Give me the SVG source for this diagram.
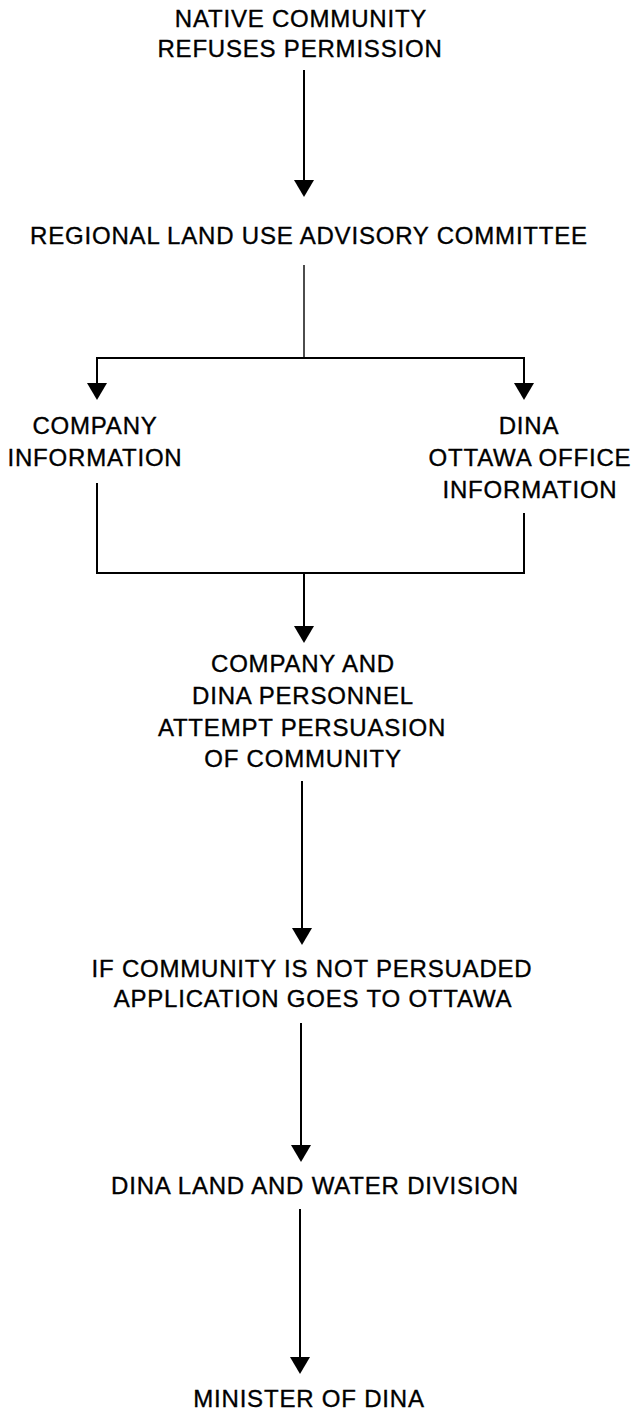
<svg xmlns="http://www.w3.org/2000/svg" width="635" height="1410" viewBox="0 0 635 1410">
  <style>
    text { font-family: "Liberation Sans", Arial, sans-serif; font-size: 24px; letter-spacing: 0.8px; fill: #000; stroke: #000; stroke-width: 0.35; text-anchor: middle; }
    .ln { stroke: #000; stroke-width: 2; fill: none; }
    .thin { stroke: #000; stroke-width: 1.4; fill: none; }
  </style>
  <defs>
    <marker id="ah" markerUnits="userSpaceOnUse" markerWidth="20" markerHeight="20" refX="13" refY="10" orient="auto">
      <path d="M0,0 L17,10 L0,20 Z" fill="#000"/>
    </marker>
  </defs>
  <rect width="635" height="1410" fill="#fff"/>

  <g id="connectors">
    <line class="ln" x1="304" y1="70" x2="304" y2="193" marker-end="url(#ah)"/>
    <line class="thin" x1="304" y1="265" x2="304" y2="358"/>
    <polyline class="ln" points="97,396 97,358 524,358 524,396"/>
    <line class="ln" x1="97" y1="370" x2="97" y2="396" marker-end="url(#ah)"/>
    <line class="ln" x1="524" y1="370" x2="524" y2="396" marker-end="url(#ah)"/>
    <polyline class="ln" points="97,483 97,573 524,573 524,513"/>
    <line class="ln" x1="304" y1="573" x2="304" y2="639" marker-end="url(#ah)"/>
    <line class="ln" x1="302" y1="781" x2="302" y2="941" marker-end="url(#ah)"/>
    <line class="ln" x1="301" y1="1023" x2="301" y2="1158" marker-end="url(#ah)"/>
    <line class="ln" x1="300" y1="1209" x2="300" y2="1370" marker-end="url(#ah)"/>
  </g>

  <g id="native-community">
    <text x="301" y="27">NATIVE COMMUNITY</text>
    <text x="300" y="57">REFUSES PERMISSION</text>
  </g>
  <g id="regional-committee">
    <text x="309" y="244">REGIONAL LAND USE ADVISORY COMMITTEE</text>
  </g>
  <g id="company-information">
    <text x="95" y="434">COMPANY</text>
    <text x="95" y="466">INFORMATION</text>
  </g>
  <g id="dina-ottawa-information">
    <text x="529" y="434">DINA</text>
    <text x="530" y="466">OTTAWA OFFICE</text>
    <text x="530" y="498">INFORMATION</text>
  </g>
  <g id="persuasion">
    <text x="303" y="672">COMPANY AND</text>
    <text x="303" y="704">DINA PERSONNEL</text>
    <text x="302" y="736">ATTEMPT PERSUASION</text>
    <text x="303" y="767">OF COMMUNITY</text>
  </g>
  <g id="goes-to-ottawa">
    <text x="312" y="977">IF COMMUNITY IS NOT PERSUADED</text>
    <text x="313" y="1007">APPLICATION GOES TO OTTAWA</text>
  </g>
  <g id="land-water-division">
    <text x="315" y="1194">DINA LAND AND WATER DIVISION</text>
  </g>
  <g id="minister">
    <text x="309" y="1407">MINISTER OF DINA</text>
  </g>
</svg>
